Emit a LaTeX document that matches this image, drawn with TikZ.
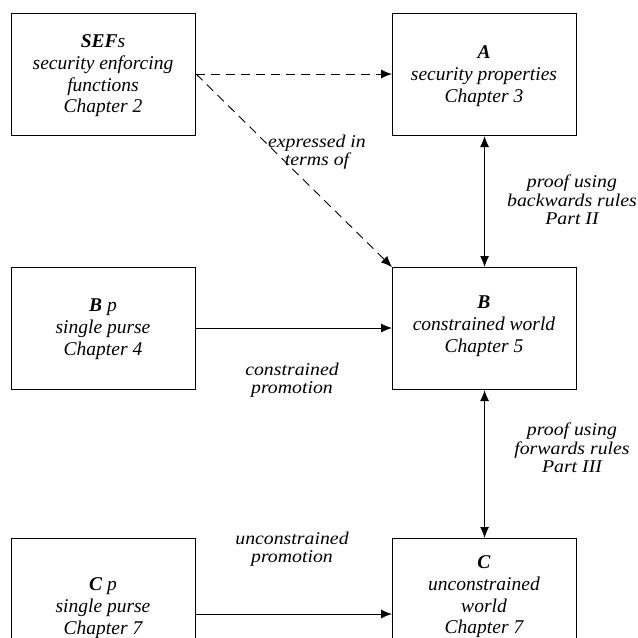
\documentclass[tikz,border=0pt]{standalone}
\usepackage{fontspec}
\setmainfont{Liberation Serif}
\newfontfamily\lblfont[FakeStretch=1.1]{Liberation Serif}
\usetikzlibrary{arrows.meta}
\begin{document}
\begin{tikzpicture}[x=1pt,y=-1pt,
  box/.style={draw,line width=1.1pt,minimum width=184pt,minimum height=122pt,inner sep=0pt,anchor=north west},
  boxtext/.style={align=center,font=\fontsize{19.5}{21.7}\selectfont\itshape,inner sep=0pt},
  lbl/.style={align=center,font=\lblfont\fontsize{18}{18.5}\selectfont\itshape,inner sep=0pt},
  conn/.style={line width=0.9pt,-{Latex[length=11pt,width=9pt]}},
  biconn/.style={line width=0.9pt,{Latex[length=11pt,width=9pt]}-{Latex[length=11pt,width=9pt]}},
  dconn/.style={conn,dash pattern=on 9pt off 6pt}]
\useasboundingbox (0,0) rectangle (638,638);
\clip (0,0) rectangle (638,638);
\node[box] (sef) at (11,13) {};
\node[box] (a) at (392,13) {};
\node[box] (bp) at (11,267) {};
\node[box] (b) at (392,267) {};
\node[box] (cp) at (11,538) {};
\node[box] (c) at (392,538) {};
\node[boxtext] (sefT) at (103,76) {\textbf{SEF}s\\security enforcing\\functions\\Chapter 2};
\node[boxtext] (aT) at (484,76) {\textbf{A}\\security properties\\Chapter 3};
\node[boxtext] (bpT) at (103,329) {\textbf{B} p\\single purse\\Chapter 4};
\node[boxtext] (bT) at (484,326) {\textbf{B}\\constrained world\\Chapter 5};
\node[boxtext] (cpT) at (103,608) {\textbf{C} p\\single purse\\Chapter 7};
\node[boxtext] (cT) at (484,597) {\textbf{C}\\unconstrained\\world\\Chapter 7};
\draw[dconn] (sef.east |- 0,74) coordinate (s1) -- (a.west |- s1);
\draw[dconn] (s1) -- (b.north west);
\draw[biconn] (a.south) -- (b.north);
\draw[biconn] (b.south) -- (c.north);
\draw[conn] (bp.east |- 0,328) -- (b.west |- 0,328);
\draw[conn] (cp.east |- 0,614) -- (c.west |- 0,614);
\node[lbl] (l1) at (317,152) {expressed in\\terms of};
\node[lbl] (l2) at (572,200) {proof using\\backwards rules\\Part II};
\node[lbl] (l3) at (292,380) {constrained\\promotion};
\node[lbl] (l4) at (572,448) {proof using\\forwards rules\\Part III};
\node[lbl] (l5) at (292,549) {unconstrained\\promotion};
\end{tikzpicture}
\end{document}
